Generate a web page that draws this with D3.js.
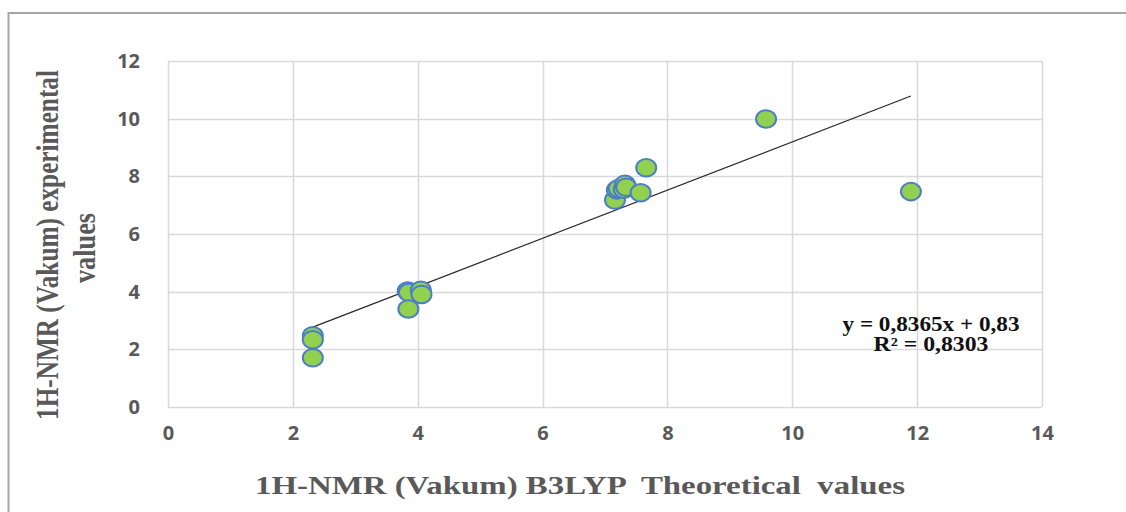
<!DOCTYPE html>
<html>
<head>
<meta charset="utf-8">
<script src="https://cdn.jsdelivr.net/npm/d3@7"></script>
<style>
  body { margin: 0; background: white; }
  svg { display: block; }
</style>
</head>
<body>
<svg id="chart" width="1126" height="512"></svg>
<script>
// theoretical (B3LYP) vs experimental 1H-NMR shifts
const theoretical = [2.32, 2.32, 2.32, 3.84, 3.86, 4.05, 4.06, 3.85,
    7.16, 7.19, 7.22, 7.30, 7.32, 7.34, 7.57, 7.66, 9.58, 11.90];
const experimental = [2.47, 2.33, 1.71, 4.02, 3.97, 4.05, 3.90, 3.40,
    7.18, 7.53, 7.58, 7.55, 7.72, 7.62, 7.43, 8.30, 9.99, 7.47];
const xTicks = [0, 2, 4, 6, 8, 10, 12, 14];
const yTicks = [0, 2, 4, 6, 8, 10, 12];
const slope = 0.8365, intercept = 0.83;
const eqLines = ['y = 0,8365x + 0,83', 'R² = 0,8303'];

const svg = d3.select('#chart'),
    plot = { left: 168, right: 1042, top: 61, bottom: 407 },
    grey = '#595959',
    gridColor = '#d9d9d9';

const x = d3.scaleLinear().domain([0, 14]).range([plot.left, plot.right]),
    y = d3.scaleLinear().domain([0, 12]).range([plot.bottom, plot.top]);

// outer chart frame
svg.append('rect')
    .attr('x', 8.5)
    .attr('y', 13)
    .attr('width', 1130)
    .attr('height', 520)
    .attr('fill', 'white')
    .attr('stroke', '#a6a6a6')
    .attr('stroke-width', 2);

// grid
svg.append('g')
    .selectAll('line')
    .data(yTicks)
    .enter()
    .append('line')
    .attr('x1', plot.left)
    .attr('x2', plot.right)
    .attr('y1', d => Math.round(y(d)) + 0.5)
    .attr('y2', d => Math.round(y(d)) + 0.5)
    .attr('stroke', gridColor)
    .attr('stroke-width', 1.5);

svg.append('g')
    .selectAll('line')
    .data(xTicks)
    .enter()
    .append('line')
    .attr('y1', plot.top)
    .attr('y2', plot.bottom)
    .attr('x1', d => Math.round(x(d)) + 0.5)
    .attr('x2', d => Math.round(x(d)) + 0.5)
    .attr('stroke', gridColor)
    .attr('stroke-width', 1.5);

// axes: labels only, lines handled by the grid
const xAxis = svg.append('g')
    .attr('transform', 'translate(0,' + plot.bottom + ')')
    .call(d3.axisBottom(x).tickValues(xTicks).tickSize(0).tickPadding(19));

const yAxis = svg.append('g')
    .attr('transform', 'translate(' + plot.left + ',0)')
    .call(d3.axisLeft(y).tickValues(yTicks).tickSize(0).tickPadding(28));

[xAxis, yAxis].forEach(function (a) {
    a.select('.domain').remove();
    a.selectAll('text')
        .attr('fill', grey)
        .attr('font-family', '"Open Sans", "Liberation Sans", sans-serif')
        .attr('font-weight', 'bold')
        .attr('font-size', 20);
});

// trend line
const xr = d3.extent(theoretical);
svg.append('line')
    .attr('x1', x(xr[0]))
    .attr('y1', y(slope * xr[0] + intercept))
    .attr('x2', x(xr[1]))
    .attr('y2', y(slope * xr[1] + intercept))
    .attr('stroke', '#262626')
    .attr('stroke-width', 1.2);

// markers
svg.append('g')
    .selectAll('ellipse')
    .data(theoretical.map((t, i) => ({ t: t, e: experimental[i] })))
    .enter()
    .append('ellipse')
    .attr('cx', d => x(d.t))
    .attr('cy', d => y(d.e))
    .attr('rx', 10)
    .attr('ry', 8.8)
    .attr('fill', '#92d050')
    .attr('stroke', '#4a7ec8')
    .attr('stroke-width', 2);

// equation label
const eqWidths = [177, 115];
svg.append('g')
    .selectAll('text')
    .data(eqLines)
    .enter()
    .append('text')
    .text(d => d)
    .attr('x', 931)
    .attr('y', (d, i) => 331 + i * 20)
    .attr('text-anchor', 'middle')
    .attr('textLength', (d, i) => eqWidths[i])
    .attr('lengthAdjust', 'spacingAndGlyphs')
    .attr('font-family', '"Liberation Serif", "Times New Roman", serif')
    .attr('font-weight', 'bold')
    .attr('font-size', 20)
    .attr('fill', '#111');

// axis titles
svg.append('text')
    .text('1H-NMR (Vakum) B3LYP  Theoretical  values')
    .attr('x', 255)
    .attr('y', 494)
    .attr('textLength', 650)
    .attr('lengthAdjust', 'spacingAndGlyphs')
    .style('white-space', 'pre')
    .attr('font-family', '"Liberation Serif", "Times New Roman", serif')
    .attr('font-weight', 'bold')
    .attr('font-size', 25)
    .attr('fill', grey);

const yTitle = svg.append('g')
    .attr('transform', 'translate(58,245) rotate(-90)');

yTitle.append('text')
    .text('1H-NMR (Vakum) experimental')
    .attr('x', 0)
    .attr('y', 0)
    .attr('text-anchor', 'middle')
    .attr('textLength', 350)
    .attr('lengthAdjust', 'spacingAndGlyphs')
    .attr('font-family', '"Liberation Serif", "Times New Roman", serif')
    .attr('font-weight', 'bold')
    .attr('font-size', 31)
    .attr('fill', grey);

yTitle.append('text')
    .text('values')
    .attr('x', -3)
    .attr('y', 37)
    .attr('text-anchor', 'middle')
    .attr('textLength', 70)
    .attr('lengthAdjust', 'spacingAndGlyphs')
    .attr('font-family', '"Liberation Serif", "Times New Roman", serif')
    .attr('font-weight', 'bold')
    .attr('font-size', 31)
    .attr('fill', grey);
</script>
</body>
</html>
